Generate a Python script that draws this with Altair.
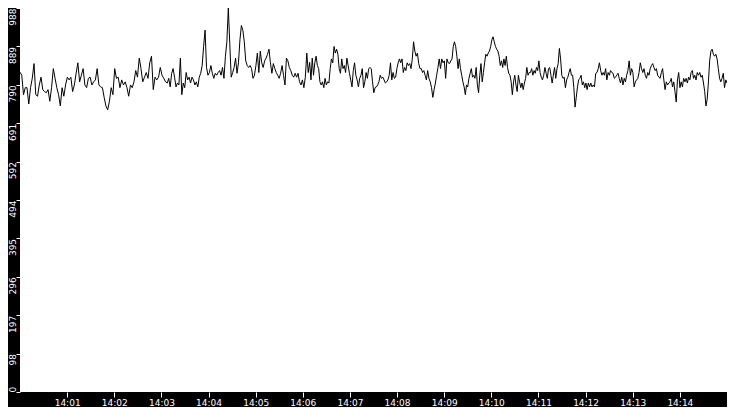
import numpy as np
import pandas as pd
import altair as alt

# trace readings, left to right, in five stretches
seg_1 = [823, 815, 765, 783, 783, 741, 783, 807, 845, 765,
         761, 790, 810, 778, 773, 770, 778, 748, 783, 832,
         807, 783, 765, 736, 783, 761, 790, 810, 803, 810,
         773, 790, 820, 847, 798, 815, 832, 790, 783, 807,
         810, 790, 798, 803, 832, 790, 785, 783, 758, 736,
         726, 748, 783, 765, 832, 807, 810, 783, 803, 790,
         798, 783, 761, 790, 783, 798, 827, 810, 859, 832,
         798, 810, 822, 807, 847, 864, 778, 810, 803, 810,
         835, 815, 807, 798]
seg_2 = [795, 807, 785, 820, 832, 810, 785, 795, 790, 859,
         765, 795, 783, 822, 803, 810, 795, 810, 803, 790,
         798, 785, 810, 820, 840, 889, 931, 835, 815, 822,
         840, 820, 807, 820, 815, 822, 827, 815, 835, 807,
         864, 901, 988, 897, 810, 822, 835, 859, 820, 847,
         906, 943, 931, 901, 852, 840, 835, 840, 832, 807,
         815, 840, 872, 822, 877, 847, 835, 852, 859, 869,
         882, 847, 820, 845, 832, 822, 815, 807, 820, 840,
         815, 790, 859, 852, 835, 827, 815, 810, 820, 810,
         820, 798, 790, 803, 783, 810, 872, 822]
seg_3 = [848, 803, 859, 815, 847, 864, 840, 832, 798, 790,
         798, 783, 807, 790, 798, 795, 832, 857, 847, 889,
         872, 882, 869, 832, 820, 857, 832, 840, 822, 859,
         840, 820, 803, 785, 827, 847, 815, 803, 785, 807,
         815, 832, 783, 798, 822, 807, 832, 835, 832, 798,
         770, 783, 785, 790, 798, 815, 807, 810, 803, 795,
         798, 803, 815, 847, 803, 822, 807, 810, 832, 847,
         857, 847, 857, 822, 835, 827, 847, 840, 845, 832,
         857, 901, 877, 864, 872, 845, 832, 832, 822, 827,
         815, 803, 827, 807, 798, 783, 758, 778, 795, 815,
         835, 857, 832, 857, 847, 852, 807, 857, 847, 845,
         852]
seg_4 = [857, 889, 901, 889, 864, 832, 857, 832, 815, 798,
         785, 765, 790, 785, 807, 820, 832, 810, 815, 807,
         835, 790, 770, 815, 845, 798, 822, 847, 869, 864,
         872, 877, 889, 906, 914, 901, 889, 882, 877, 864,
         840, 852, 835, 857, 840, 864, 835, 820, 815, 798,
         765, 798, 815, 790, 773, 815, 798, 783, 795, 778,
         795, 807, 835, 815, 822, 822, 832, 815, 827, 820,
         835, 827, 852, 822, 810, 803, 815, 835, 820, 807,
         832, 835, 815, 795, 815, 835, 807, 832, 845, 884,
         857, 815, 807, 810, 783, 803, 810, 822, 832, 815,
         815, 783, 733, 758, 785, 803, 807, 815, 790, 798,
         783, 795, 778, 795]
seg_5 = [785, 795, 785, 790, 785, 820, 822, 832, 847, 827,
         815, 822, 815, 832, 803, 822, 815, 827, 822, 820,
         807, 810, 815, 820, 807, 795, 810, 790, 807, 798,
         815, 827, 852, 815, 832, 822, 785, 798, 803, 807,
         822, 847, 832, 822, 832, 815, 807, 822, 815, 832,
         840, 845, 835, 827, 832, 815, 810, 807, 822, 832,
         803, 778, 798, 790, 795, 798, 807, 785, 798, 773,
         746, 803, 822, 783, 798, 785, 807, 798, 807, 795,
         810, 803, 822, 827, 807, 815, 803, 822, 815, 822,
         810, 815, 795, 773, 736, 753, 798, 852, 877, 882,
         869, 864, 869, 857, 832, 807, 798, 807, 820, 783,
         803, 795]
segments = [seg_1, seg_2, seg_3, seg_4, seg_5]

# stretch edges, seconds after 14:00:00
edges = [0, 187.5, 368.75, 550, 725, 900]

y_ticks = [0, 98.8, 197.6, 296.4, 395.2, 494, 592.8, 691.6, 790.4, 889.2, 988]
x_ticks = [60, 120, 180, 240, 300, 360, 420, 480, 540, 600, 660, 720, 780, 840]

frames = []
for i, vals in enumerate(segments):
    last = i == len(segments) - 1
    secs = np.linspace(edges[i], edges[i + 1], len(vals), endpoint=last)
    frames.append(pd.DataFrame({"sec": secs, "value": vals}))
df = pd.concat(frames, ignore_index=True)

font = "DejaVu Sans"

chart = alt.Chart(df).mark_line(color="black", strokeWidth=1).encode(
    alt.X("sec:Q", title=None,
          scale=alt.Scale(domain=[0, 900], nice=False, zero=False),
          axis=alt.Axis(values=x_ticks, grid=False, domain=False,
                        labelExpr="'14:' + (datum.value < 600 ? '0' : '') + datum.value / 60",
                        tickColor="white", tickSize=5, labelColor="white",
                        labelFont=font, labelFontSize=9, labelPadding=1,
                        labelFlush=False, labelOverlap=False)),
    alt.Y("value:Q", title=None,
          scale=alt.Scale(domain=[0, 988], nice=False),
          axis=alt.Axis(values=y_ticks, grid=False, domain=False,
                        labelExpr="floor(datum.value)",
                        labelAngle=270,
                        labelAlign={"condition": {"test": "datum.value === 0", "value": "left"},
                                    "value": "right"},
                        labelBaseline="alphabetic",
                        tickColor="white", tickSize=4, labelColor="white",
                        labelFont=font, labelFontSize=9, labelPadding=1,
                        labelFlush=False, labelOverlap=False))
).properties(
    width=707,
    height=384,
    padding={"left": 12, "top": 0, "right": 0, "bottom": 15},
    autosize="none",
    background="black"
).configure_view(fill="white", strokeWidth=0)

chart.save("out.html", embed_options={"renderer": "svg", "actions": False})
